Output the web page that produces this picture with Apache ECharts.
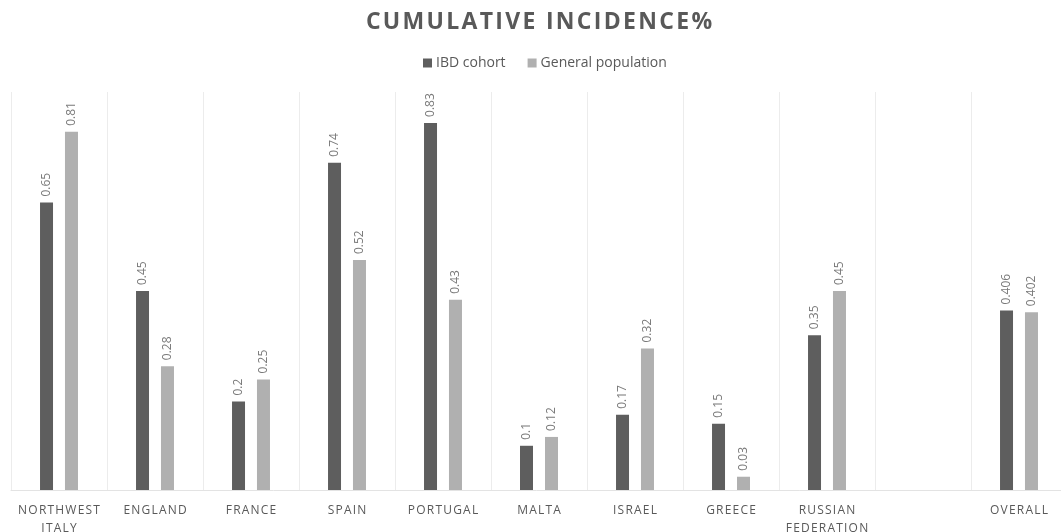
<!DOCTYPE html>
<html>
<head>
<meta charset="utf-8">
<script src="https://cdn.jsdelivr.net/npm/echarts@6/dist/echarts.min.js"></script>
<style>html,body{margin:0;padding:0;background:#fff;overflow:hidden}#c{width:1061px;height:532px}</style>
</head>
<body>
<div id="c"></div>
<script>
const categories = ['NORTHWEST ITALY', 'ENGLAND', 'FRANCE', 'SPAIN', 'PORTUGAL', 'MALTA', 'ISRAEL', 'GREECE', 'RUSSIAN FEDERATION', '', 'OVERALL'];
const ibdCohort = [0.65, 0.45, 0.2, 0.74, 0.83, 0.1, 0.17, 0.15, 0.35, null, 0.406];
const generalPopulation = [0.81, 0.28, 0.25, 0.52, 0.43, 0.12, 0.32, 0.03, 0.45, null, 0.402];
const titleText = 'CUMULATIVE INCIDENCE%';

const spaced = s => s.split('').join('\u200A');
const wrapSpaced = s => s.split(' ').map(spaced).join('\n');

const chart = echarts.init(document.getElementById('c'), null, {renderer: 'canvas'});
const labelCfg = {
  show: true, position: 'top', rotate: 90, align: 'left', verticalAlign: 'middle',
  distance: 6, color: '#7a7a7a', fontSize: 12, fontFamily: 'Open Sans',
  formatter: p => p.value == null ? '' : String(p.value)
};
chart.setOption({
  animation: false,
  backgroundColor: '#fff',
  title: {
    text: spaced(titleText), left: 534, textAlign: 'center', top: 6,
    textStyle: {fontFamily: 'Open Sans', fontWeight: 'bold', fontSize: 23, color: '#595959'}
  },
  legend: {
    top: 51, left: 418, itemWidth: 9, itemHeight: 9, itemGap: 22,
    icon: 'rect',
    textStyle: {fontFamily: 'Open Sans', fontSize: 14, color: '#595959', padding: [0, 0, 0, -1]}
  },
  grid: {left: 11, width: 1056, top: 92, height: 398, containLabel: false, outerBoundsMode: 'none'},
  xAxis: {
    type: 'category', data: categories,
    axisLine: {lineStyle: {color: '#e3e3e3', width: 1}},
    axisTick: {show: false},
    splitLine: {show: true, lineStyle: {color: '#ececec', width: 1}},
    axisLabel: {
      interval: 0, margin: 12, lineHeight: 18,
      fontFamily: 'Open Sans', fontSize: 12, color: '#595959',
      formatter: v => wrapSpaced(v)
    }
  },
  yAxis: {type: 'value', min: 0, max: 0.9, show: false, splitLine: {show: false}},
  series: [
    {name: 'IBD cohort', type: 'bar', data: ibdCohort, barWidth: 13, barGap: '92%',
     itemStyle: {color: '#5e5e5e'}, label: labelCfg},
    {name: 'General population', type: 'bar', data: generalPopulation, barWidth: 13,
     itemStyle: {color: '#b0b0b0'}, label: labelCfg}
  ]
});
</script>
</body>
</html>
